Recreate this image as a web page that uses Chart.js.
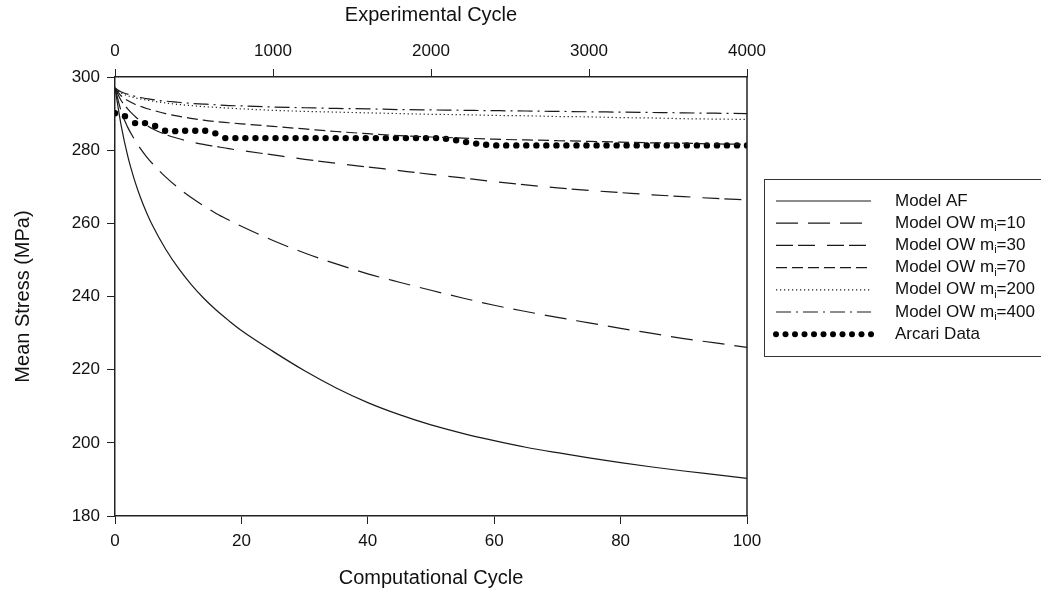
<!DOCTYPE html>
<html>
<head>
<meta charset="utf-8">
<title>Mean Stress vs Cycle</title>
<script src="https://cdn.jsdelivr.net/npm/chart.js@4.4.1/dist/chart.umd.min.js"></script>
<style>
  html, body { margin: 0; padding: 0; background: #fff; }
  #wrap { width: 1041px; height: 592px; }
</style>
</head>
<body>
<div id="wrap"><canvas id="stress-chart" width="1041" height="592"></canvas></div>
<script>
// Computational cycles (bottom axis) shared by all model curves
const compCycles = [0, 1, 2, 3, 4, 5, 6, 8, 10, 12, 14, 16, 18, 20, 25, 30, 35, 40, 45, 50, 55, 60, 65, 70, 75, 80, 85, 90, 95, 100];

// Model curves, mean stress in MPa
const modelAF = [297, 286.5, 278.5, 272.3, 267.2, 262.9, 259.2, 253, 247.8, 243.4, 239.6, 236.3, 233.4, 230.7, 225, 219.7, 215, 211, 207.7, 204.9, 202.6, 200.6, 198.8, 197.3, 195.9, 194.6, 193.4, 192.3, 191.3, 190.3];
const modelOW10 = [297, 290.5, 286.3, 283.2, 280.5, 278.2, 276.2, 272.7, 269.7, 267.1, 264.8, 262.7, 260.9, 259.2, 255.3, 251.9, 248.9, 246.2, 243.9, 241.7, 239.6, 237.6, 235.9, 234.3, 232.8, 231.3, 229.9, 228.5, 227.3, 226.1];
const modelOW30 = [297, 293.5, 291.3, 289.5, 288, 286.8, 285.8, 284.3, 283.2, 282.3, 281.6, 281, 280.4, 279.9, 278.7, 277.5, 276.4, 275.4, 274.4, 273.4, 272.4, 271.4, 270.5, 269.7, 269, 268.4, 267.8, 267.3, 266.8, 266.4];
const modelOW70 = [297, 294.8, 293.6, 292.7, 292, 291.4, 290.9, 290, 289.3, 288.7, 288.2, 287.8, 287.5, 287.2, 286.5, 285.8, 285.1, 284.5, 284, 283.6, 283.3, 283, 282.8, 282.6, 282.4, 282.2, 282, 281.9, 281.7, 281.6];
const modelOW200 = [297, 295.6, 294.9, 294.4, 294, 293.7, 293.4, 292.9, 292.5, 292.2, 291.9, 291.7, 291.5, 291.3, 290.9, 290.6, 290.4, 290.2, 290, 289.8, 289.7, 289.5, 289.4, 289.2, 289.1, 288.9, 288.8, 288.6, 288.5, 288.4];
const modelOW400 = [297, 295.9, 295.3, 294.8, 294.4, 294.1, 293.8, 293.4, 293.1, 292.8, 292.6, 292.4, 292.2, 292.1, 291.8, 291.6, 291.4, 291.3, 291.1, 291, 290.9, 290.8, 290.7, 290.6, 290.5, 290.4, 290.3, 290.2, 290.1, 290];

// Arcari measurements against experimental cycle (top axis)
const arcariCycles = [0, 63, 127, 190, 254, 317, 381, 444, 508, 571, 635, 698, 762, 825, 889, 952, 1016, 1079, 1143, 1206, 1270, 1333, 1397, 1460, 1524, 1587, 1651, 1714, 1778, 1841, 1905, 1968, 2032, 2095, 2159, 2222, 2286, 2349, 2413, 2476, 2540, 2603, 2667, 2730, 2794, 2857, 2921, 2984, 3048, 3111, 3175, 3238, 3302, 3365, 3429, 3492, 3556, 3619, 3683, 3746, 3810, 3873, 3937, 4000];
const arcariStress = [290.1, 289.3, 287.4, 287.4, 286.6, 285.3, 285.2, 285.3, 285.3, 285.3, 284.6, 283.3, 283.3, 283.3, 283.3, 283.3, 283.3, 283.3, 283.3, 283.3, 283.3, 283.3, 283.3, 283.3, 283.3, 283.3, 283.3, 283.3, 283.3, 283.3, 283.3, 283.3, 283.3, 283.1, 282.7, 282.2, 281.8, 281.5, 281.3, 281.3, 281.3, 281.3, 281.3, 281.3, 281.3, 281.3, 281.3, 281.3, 281.3, 281.3, 281.3, 281.3, 281.3, 281.3, 281.3, 281.3, 281.3, 281.3, 281.3, 281.3, 281.3, 281.3, 281.3, 281.3];

// Tick values
const compTicks = [0, 20, 40, 60, 80, 100];
const expTicks = [0, 1000, 2000, 3000, 4000];
const stressTicks = [180, 200, 220, 240, 260, 280, 300];

const seriesLabels = ['Model AF', 'Model OW m_i=10', 'Model OW m_i=30', 'Model OW m_i=70', 'Model OW m_i=200', 'Model OW m_i=400', 'Arcari Data'];

const FONT = '"Liberation Sans", Arial, Helvetica, sans-serif';
const INK = '#111';

/**
 * Pair an x array with a y array for a linear scale
 */
function toPoints(xs, ys) {
    return xs.map((x, i) => ({ x: x, y: ys[i] }));
}

/**
 * Model curve dataset
 */
function modelSeries(label, values, dash) {
    return {
        label: label,
        data: toPoints(compCycles, values),
        xAxisID: 'x',
        borderColor: '#1a1a1a',
        borderWidth: 1.2,
        borderDash: dash,
        pointRadius: 0,
        cubicInterpolationMode: 'monotone',
        fill: false
    };
}

/**
 * Axis with outward ticks and no grid
 */
function axis(position, min, max, ticks, title, fit, titlePadding) {
    return {
        type: 'linear',
        position: position,
        min: min,
        max: max,
        afterBuildTicks: function(scale) {
            scale.ticks = ticks.map(v => ({ value: v }));
        },
        afterFit: fit,
        grid: {
            drawOnChartArea: false,
            drawTicks: true,
            tickLength: 8,
            color: '#222',
            lineWidth: 1
        },
        border: { display: true, color: '#222', width: 1.5 },
        ticks: {
            padding: 7,
            color: INK,
            font: { family: FONT, size: 17 },
            maxRotation: 0,
            autoSkip: false,
            // plain numbers, no thousands separator
            callback: function(value) {
                return String(value);
            }
        },
        title: {
            display: true,
            text: title,
            color: INK,
            font: { family: FONT, size: 20 },
            padding: titlePadding
        }
    };
}

/**
 * Boxed legend on the right plus the right frame edge
 */
const boxLegend = {
    id: 'boxLegend',
    afterDraw: function(chart) {
        const ctx = chart.ctx;
        const area = chart.chartArea;
        ctx.save();

        // right edge of the plot frame
        ctx.strokeStyle = '#222';
        ctx.lineWidth = 1.5;
        ctx.beginPath();
        ctx.moveTo(area.right, area.top);
        ctx.lineTo(area.right, area.bottom);
        ctx.stroke();

        // legend frame
        ctx.lineWidth = 1;
        ctx.strokeStyle = '#333';
        ctx.strokeRect(764.5, 179.5, 300, 177);

        chart.data.datasets.forEach(function(ds, i) {
            const y = 201 + i * 22.2;
            const x0 = 776, x1 = 871;

            if (ds.showLine === false) {
                ctx.fillStyle = '#000';
                for (let k = 0; k < 11; k++) {
                    ctx.beginPath();
                    ctx.arc(x0 + k * 9.5, y, 3, 0, Math.PI * 2);
                    ctx.fill();
                }
            } else {
                ctx.strokeStyle = ds.borderColor;
                ctx.lineWidth = ds.borderWidth;
                ctx.setLineDash(ds.borderDash || []);
                ctx.beginPath();
                ctx.moveTo(x0, y);
                ctx.lineTo(x1, y);
                ctx.stroke();
                ctx.setLineDash([]);
            }

            // label, with "_i" drawn as a subscript
            ctx.fillStyle = INK;
            ctx.textBaseline = 'middle';
            ctx.textAlign = 'left';
            const parts = seriesLabels[i].split('_i');
            let x = 895;
            ctx.font = '17px ' + FONT;
            ctx.fillText(parts[0], x, y);
            if (parts.length > 1) {
                x += ctx.measureText(parts[0]).width;
                ctx.font = '11px ' + FONT;
                ctx.fillText('i', x, y + 5);
                x += ctx.measureText('i').width;
                ctx.font = '17px ' + FONT;
                ctx.fillText(parts[1], x, y);
            }
        });

        ctx.restore();
    }
};

const StressChart = {

    chart: null,

    init: function() {
        const canvas = document.getElementById('stress-chart');

        this.chart = new Chart(canvas, {
            type: 'line',
            data: {
                datasets: [
                    modelSeries(seriesLabels[0], modelAF, []),
                    modelSeries(seriesLabels[1], modelOW10, [22, 10]),
                    modelSeries(seriesLabels[2], modelOW30, [17, 5, 17, 12]),
                    modelSeries(seriesLabels[3], modelOW70, [11, 5]),
                    modelSeries(seriesLabels[4], modelOW200, [1.2, 2.8]),
                    modelSeries(seriesLabels[5], modelOW400, [15, 5, 2, 5]),
                    {
                        label: seriesLabels[6],
                        data: toPoints(arcariCycles, arcariStress),
                        xAxisID: 'x2',
                        showLine: false,
                        pointRadius: 3.2,
                        pointBackgroundColor: '#000',
                        pointBorderWidth: 0,
                        borderColor: '#000'
                    }
                ]
            },
            options: {
                responsive: false,
                animation: false,
                devicePixelRatio: 1,
                layout: { padding: { left: 0, right: 294, top: 0, bottom: 0 } },
                plugins: {
                    legend: { display: false },
                    tooltip: { enabled: false }
                },
                scales: {
                    x: axis('bottom', 0, 100, compTicks, 'Computational Cycle',
                        function(s) { s.height = 76; }, { top: 0, bottom: 2 }),
                    x2: axis('top', 0, 4000, expTicks, 'Experimental Cycle',
                        function(s) { s.height = 77; }, { top: 3, bottom: 0 }),
                    y: axis('left', 180, 300, stressTicks, 'Mean Stress (MPa)',
                        function(s) { s.width = 115; }, { top: 11, bottom: 0 })
                }
            },
            plugins: [boxLegend]
        });
    }
};

StressChart.init();
</script>
</body>
</html>
